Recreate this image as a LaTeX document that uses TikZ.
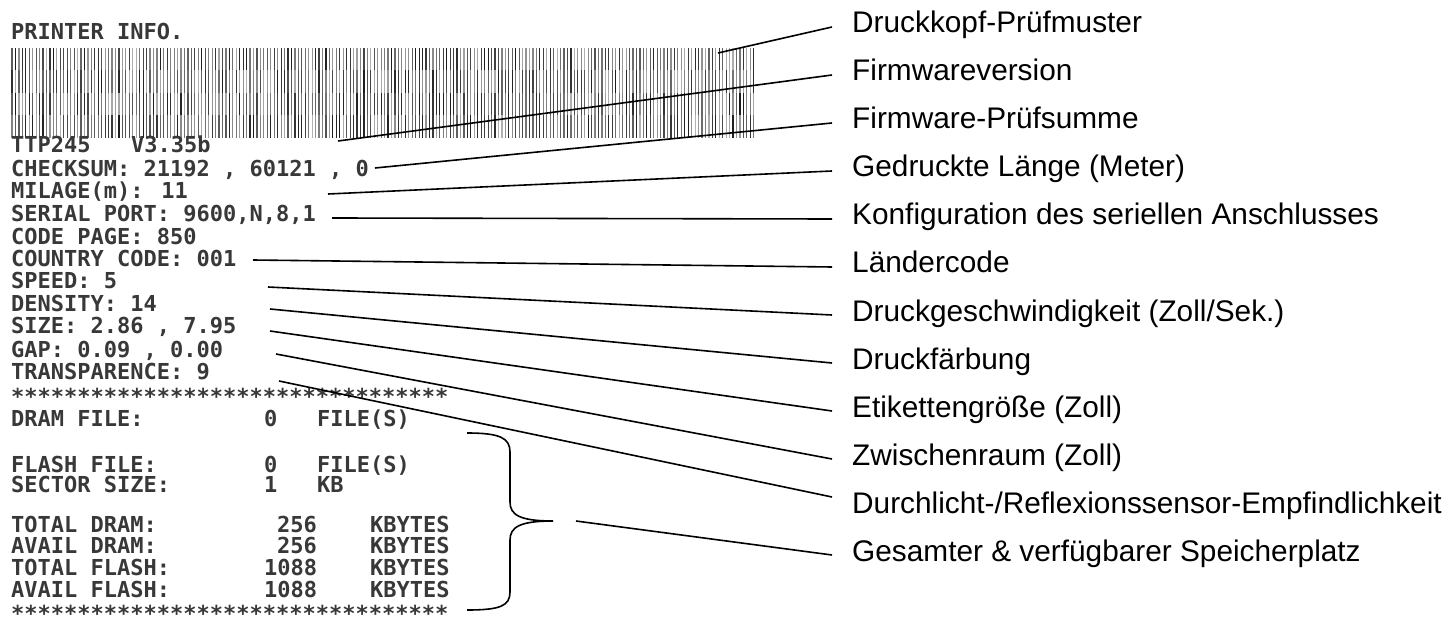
\documentclass[tikz,border=0pt]{standalone}
\usepackage{fontspec}
\newfontfamily\lblfont{Liberation Sans}
\newfontfamily\prnfont{DejaVu Sans Mono}
\definecolor{ink}{gray}{0.22}
\tikzset{
  prn/.style={anchor=base west,inner sep=0pt,text=ink,font=\prnfont\bfseries\fontsize{22}{24}\selectfont},
  lbl/.style={anchor=base west,inner xsep=20pt,inner ysep=0pt,text height=17.5pt,text depth=5.5pt,font=\lblfont\fontsize{29.8}{32}\selectfont},
  lead/.style={line width=1.6pt},
}

\begin{document}
\begin{tikzpicture}[x=1pt,y=-1pt]
  \useasboundingbox (0,0) rectangle (1451,628);

  % test pattern
  \pgfmathsetseed{245}
  \foreach \r in {0,...,3}{
    \foreach \i in {0,...,215}{
      \pgfmathtruncatemacro\g{30+60*rnd}
      \draw[black!\g, line width=1.2pt] (12+3.45*\i, 48+22.5*\r) -- ++(0,22.5);
    }
  }

  % printout
  \node[prn] (hdr) at (11,40) {PRINTER INFO.};
  \node[prn] (model) at (11,153) {TTP245};
  \node[prn] (fwver) at (131,153) {V3.35b};
  \node[prn] (chk) at (11,177) {CHECKSUM: 21192 , 60121 , 0};
  \node[prn] (mil) at (11,199) {MILAGE(m): 11};
  \node[prn] (ser) at (11,222) {SERIAL PORT: 9600,N,8,1};
  \node[prn] (cpg) at (11,245) {CODE PAGE: 850};
  \node[prn] (ctry) at (11,267) {COUNTRY CODE: 001};
  \node[prn] (spd) at (11,289) {SPEED: 5};
  \node[prn] (dens) at (11,312) {DENSITY: 14};
  \node[prn] (size) at (11,334) {SIZE: 2.86 , 7.95};
  \node[prn] (gap) at (11,357) {GAP: 0.09 , 0.00};
  \node[prn] (trns) at (11,379) {TRANSPARENCE: 9};
  \node[prn] (sepa) at (11,404) {*********************************};
  \node[prn] (dram) at (11,426) {DRAM FILE:};
  \node[prn] (dramn) at (264,426) {0};
  \node[prn] (dramu) at (317,426) {FILE(S)};
  \node[prn] (flsh) at (11,472) {FLASH FILE:};
  \node[prn] (flshn) at (264,472) {0};
  \node[prn] (flshu) at (317,472) {FILE(S)};
  \node[prn] (sect) at (11,492) {SECTOR SIZE:};
  \node[prn] (sectn) at (264,492) {1};
  \node[prn] (sectu) at (317,492) {KB};
  \node[prn] (tdram) at (11,532) {TOTAL DRAM:};
  \node[prn] (tdramn) at (277,532) {256};
  \node[prn] (tdramu) at (370,532) {KBYTES};
  \node[prn] (adram) at (11,553) {AVAIL DRAM:};
  \node[prn] (adramn) at (277,553) {256};
  \node[prn] (adramu) at (370,553) {KBYTES};
  \node[prn] (tflsh) at (11,575) {TOTAL FLASH:};
  \node[prn] (tflshn) at (264,575) {1088};
  \node[prn] (tflshu) at (370,575) {KBYTES};
  \node[prn] (aflsh) at (11,597) {AVAIL FLASH:};
  \node[prn] (aflshn) at (264,597) {1088};
  \node[prn] (aflshu) at (370,597) {KBYTES};
  \node[prn] (sepb) at (11,621) {*********************************};

  % brace
  \draw[lead] (467,433) .. controls (500,433) and (510,438) .. (510,452) -- (510,502)
    .. controls (510,515) and (520,521) .. (553,521)
    .. controls (520,521) and (510,527) .. (510,540) -- (510,592)
    .. controls (510,606) and (500,610) .. (467,610);

  % labels
  \node[lbl] (l0) at (832,33) {Druckkopf-Prüfmuster};
  \node[lbl] (l1) at (832,81) {Firmwareversion};
  \node[lbl] (l2) at (832,129) {Firmware-Prüfsumme};
  \node[lbl] (l3) at (832,177) {Gedruckte Länge (Meter)};
  \node[lbl] (l4) at (832,225) {Konfiguration des seriellen Anschlusses};
  \node[lbl] (l5) at (832,273) {Ländercode};
  \node[lbl] (l6) at (832,321) {Druckgeschwindigkeit (Zoll/Sek.)};
  \node[lbl] (l7) at (832,369) {Druckfärbung};
  \node[lbl] (l8) at (832,417) {Etikettengröße (Zoll)};
  \node[lbl] (l9) at (832,465) {Zwischenraum (Zoll)};
  \node[lbl] (l10) at (832,513) {Durchlicht-/Reflexionssensor-Empfindlichkeit};
  \node[lbl] (l11) at (832,561) {Gesamter \& verfügbarer Speicherplatz};

  % leader ends
  \coordinate (p0) at (718,53);
  \coordinate (p1) at (338,141);
  \coordinate (p2) at (375,168);
  \coordinate (p3) at (328,194);
  \coordinate (p4) at (332,218);
  \coordinate (p5) at (253,260);
  \coordinate (p6) at (268,287);
  \coordinate (p7) at (270,309);
  \coordinate (p8) at (270,331);
  \coordinate (p9) at (276,354);
  \coordinate (p10) at (279,381);
  \coordinate (p11) at (576,521);

  \foreach \k in {0,...,9,11}
    \draw[lead] (p\k) -- (l\k.west);
  \draw[lead] (p10) -- ([yshift=10pt]l10.west);
\end{tikzpicture}
\end{document}
